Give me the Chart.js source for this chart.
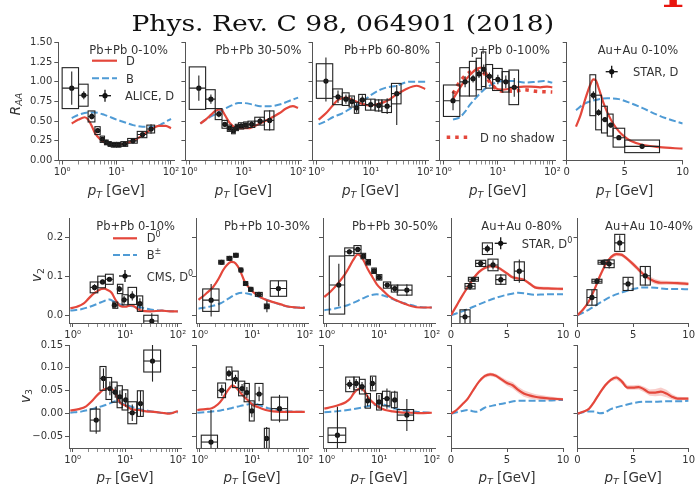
<!DOCTYPE html>
<html>
<head>
<meta charset="utf-8">
<script src="https://cdn.jsdelivr.net/npm/chart.js@4.4.0/dist/chart.umd.min.js"></script>
<style>
  body { margin: 0; background: #fff; width: 697px; height: 484px; overflow: hidden; position: relative; }
  canvas { position: absolute; left: 0; top: 0; }
</style>
</head>
<body>
<script>
// ---------- Row 1: R_AA ----------
// Pb+Pb 0-10%
const raa010PtD = [1.5, 2, 2.6, 3, 3.5, 4, 5, 6, 8, 10, 15, 20, 30, 40, 60, 80, 100];
const raa010D   = [0.47, 0.52, 0.55, 0.52, 0.44, 0.35, 0.27, 0.23, 0.21, 0.20, 0.22, 0.25, 0.32, 0.38, 0.44, 0.44, 0.41];
const raa010PtB = [1.5, 2, 3, 4, 6, 10, 15, 20, 30, 50, 70, 100];
const raa010B   = [0.54, 0.58, 0.61, 0.61, 0.58, 0.52, 0.48, 0.45, 0.43, 0.43, 0.47, 0.53];
const alice010Pt   = [1.5, 2.5, 3.5, 4.5, 5.5, 6.5, 7.5, 9, 11, 14, 20, 30, 43];
const alice010Val  = [0.92, 0.83, 0.56, 0.38, 0.27, 0.23, 0.21, 0.20, 0.20, 0.21, 0.25, 0.33, 0.40];
const alice010Stat = [0.21, 0.05, 0.04, 0.03, 0.02, 0.02, 0.02, 0.02, 0.02, 0.02, 0.03, 0.04, 0.06];
const alice010Sys  = [0.26, 0.14, 0.07, 0.05, 0.04, 0.03, 0.03, 0.03, 0.03, 0.03, 0.03, 0.04, 0.05];
const alice010Lo   = [1, 2, 3, 4, 5, 6, 7, 8, 10, 12, 16, 24, 36];
const alice010Hi   = [2, 3, 4, 5, 6, 7, 8, 10, 12, 16, 24, 36, 50];

// Pb+Pb 30-50%
const raa3050PtD = [1.6, 2, 2.5, 3, 3.8, 4.5, 5.5, 7, 9, 12, 15, 20, 30, 45, 60, 80, 100];
const raa3050D   = [0.47, 0.52, 0.58, 0.63, 0.65, 0.58, 0.48, 0.42, 0.41, 0.41, 0.43, 0.47, 0.53, 0.60, 0.66, 0.69, 0.67];
const raa3050PtB = [1.6, 2, 3, 4, 6, 8, 10, 15, 20, 30, 50, 70, 100];
const raa3050B   = [0.47, 0.52, 0.59, 0.64, 0.70, 0.73, 0.73, 0.71, 0.69, 0.69, 0.72, 0.76, 0.80];
const alice3050Pt   = [1.5, 2.5, 3.5, 4.5, 5.5, 6.5, 7.5, 9, 11, 14, 20, 30];
const alice3050Val  = [0.92, 0.78, 0.59, 0.46, 0.41, 0.38, 0.42, 0.44, 0.45, 0.46, 0.50, 0.51];
const alice3050Stat = [0.16, 0.06, 0.04, 0.03, 0.03, 0.03, 0.03, 0.03, 0.03, 0.04, 0.05, 0.13];
const alice3050Sys  = [0.27, 0.12, 0.07, 0.05, 0.04, 0.04, 0.04, 0.04, 0.04, 0.04, 0.05, 0.12];
const alice3050Lo   = [1, 2, 3, 4, 5, 6, 7, 8, 10, 12, 16, 24];
const alice3050Hi   = [2, 3, 4, 5, 6, 7, 8, 10, 12, 16, 24, 36];

// Pb+Pb 60-80%
const raa6080PtD = [1.1, 1.5, 2, 2.5, 3.5, 5, 7, 10, 14, 20, 30, 45, 70, 100];
const raa6080D   = [0.52, 0.60, 0.70, 0.77, 0.80, 0.76, 0.72, 0.70, 0.72, 0.76, 0.84, 0.91, 0.95, 0.91];
const raa6080PtB = [1.1, 1.5, 2, 3, 4, 6, 8, 10, 15, 20, 30, 50, 70, 100];
const raa6080B   = [0.46, 0.50, 0.55, 0.60, 0.65, 0.72, 0.78, 0.83, 0.90, 0.93, 0.95, 1.0, 1.0, 1.0];
const alice6080Pt     = [1.5, 2.5, 3.5, 4.5, 5.5, 7, 10, 14, 20, 30];
const alice6080Val    = [1.01, 0.81, 0.78, 0.75, 0.67, 0.77, 0.71, 0.70, 0.69, 0.85];
const alice6080StatUp = [0.3, 0.08, 0.06, 0.06, 0.06, 0.06, 0.07, 0.08, 0.1, 0.11];
const alice6080StatDn = [0.26, 0.08, 0.06, 0.06, 0.06, 0.06, 0.07, 0.08, 0.1, 0.4];
const alice6080Sys    = [0.22, 0.1, 0.08, 0.07, 0.07, 0.07, 0.07, 0.07, 0.08, 0.13];
const alice6080Lo     = [1, 2, 3, 4, 5, 6, 8, 12, 16, 24];
const alice6080Hi     = [2, 3, 4, 5, 6, 8, 12, 16, 24, 36];

// p+Pb 0-100%
const rppbPtD  = [1.5, 2, 2.5, 3, 4, 5, 6, 7, 9, 12, 16, 22, 30, 40, 60, 80, 100];
const rppbD    = [0.78, 0.92, 1.02, 1.08, 1.16, 1.18, 1.12, 1.02, 0.92, 0.90, 0.91, 0.93, 0.94, 0.94, 0.93, 0.94, 0.93];
const rppbPtNS = [1.5, 2, 3, 4, 5, 6, 7, 9, 12, 20, 30, 50, 100];
const rppbNS   = [0.85, 1.0, 1.12, 1.16, 1.14, 1.08, 1.0, 0.92, 0.88, 0.88, 0.90, 0.88, 0.87];
const rppbPtB  = [1.5, 2, 2.5, 3, 4, 5, 6, 8, 10, 15, 20, 30, 50, 70, 100];
const rppbB    = [0.52, 0.55, 0.62, 0.70, 0.80, 0.87, 0.92, 0.97, 1.0, 1.01, 1.01, 0.99, 1.0, 1.01, 0.99];
const alicePPbPt   = [1.5, 2.5, 3.5, 4.5, 5.5, 7, 10, 14, 20];
const alicePPbVal  = [0.76, 1.0, 1.04, 1.1, 1.16, 1.07, 1.03, 1.0, 0.93];
const alicePPbStat = [0.12, 0.07, 0.05, 0.05, 0.06, 0.05, 0.06, 0.08, 0.12];
const alicePPbSys  = [0.2, 0.18, 0.22, 0.2, 0.22, 0.15, 0.14, 0.13, 0.22];
const alicePPbLo   = [1, 2, 3, 4, 5, 6, 8, 12, 16];
const alicePPbHi   = [2, 3, 4, 5, 6, 8, 12, 16, 24];

// Au+Au 0-10%
const raaAuPtD = [0.8, 1.2, 1.6, 2.0, 2.3, 2.5, 2.8, 3.2, 3.6, 4.0, 4.5, 5.0, 5.5, 6.5, 8, 10];
const raaAuD   = [0.43, 0.58, 0.78, 0.95, 1.03, 1.02, 0.90, 0.72, 0.58, 0.47, 0.37, 0.30, 0.25, 0.20, 0.17, 0.15];
const raaAuPtB = [0.8, 1.5, 2.5, 3.5, 4.5, 5.5, 6.5, 7.5, 8.5, 10];
const raaAuB   = [0.64, 0.72, 0.77, 0.79, 0.78, 0.73, 0.67, 0.60, 0.54, 0.47];
const starRaaPt   = [2.3, 2.75, 3.3, 3.8, 4.5, 6.5];
const starRaaVal  = [0.83, 0.61, 0.52, 0.45, 0.29, 0.18];
const starRaaStat = [0.05, 0.04, 0.03, 0.03, 0.03, 0.03];
const starRaaSys  = [0.26, 0.22, 0.17, 0.14, 0.12, 0.08];
const starRaaLo   = [2.0, 2.5, 3.0, 3.5, 4.0, 5.0];
const starRaaHi   = [2.5, 3.0, 3.5, 4.0, 5.0, 8.0];

// ---------- Row 2: v2 ----------
const v2a010PtD = [0.9, 1.2, 1.6, 2, 2.5, 3, 3.5, 4, 4.5, 5.5, 6.5, 8, 10, 13, 17, 20, 30, 50, 70, 100];
const v2a010D   = [0.018, 0.022, 0.03, 0.043, 0.056, 0.063, 0.068, 0.069, 0.066, 0.058, 0.040, 0.024, 0.022, 0.026, 0.017, 0.012, 0.01, 0.012, 0.01, 0.01];
const v2a010PtB = [0.9, 1.5, 2, 3, 4, 5, 6, 8, 10, 15, 20, 30, 50, 100];
const v2a010B   = [0.012, 0.016, 0.021, 0.03, 0.037, 0.041, 0.036, 0.028, 0.025, 0.023, 0.02, 0.015, 0.012, 0.01];
const cmsV2a010Pt   = [2.6, 3.7, 5.0, 6.2, 7.7, 9.5, 13.6, 19, 32];
const cmsV2a010Val  = [0.072, 0.086, 0.093, 0.026, 0.068, 0.04, 0.05, 0.03, -0.015];
const cmsV2a010Stat = [0.008, 0.006, 0.006, 0.005, 0.008, 0.01, 0.012, 0.014, 0.02];
const cmsV2a010Sys  = [0.014, 0.015, 0.013, 0.008, 0.012, 0.013, 0.022, 0.02, 0.015];
const cmsV2a010Lo   = [2.15, 3.0, 4.2, 5.8, 7.1, 8.7, 11.3, 17, 22.5];
const cmsV2a010Hi   = [3.0, 4.2, 5.9, 7.2, 9.0, 11.3, 16.4, 21.5, 42];

const v2a1030PtD = [0.95, 1.3, 1.8, 2.3, 2.8, 3.3, 4, 4.5, 5.2, 6, 7, 8, 10, 13, 18, 25, 35, 50, 70, 100];
const v2a1030D   = [0.04, 0.055, 0.073, 0.095, 0.117, 0.13, 0.138, 0.137, 0.128, 0.112, 0.09, 0.077, 0.062, 0.05, 0.04, 0.034, 0.028, 0.022, 0.02, 0.019];
const v2a1030PtB = [0.95, 1.5, 2.5, 3.5, 5, 6.5, 8, 11, 15, 20, 30, 50, 70, 100];
const v2a1030B   = [0.017, 0.022, 0.031, 0.043, 0.055, 0.058, 0.056, 0.051, 0.045, 0.039, 0.03, 0.022, 0.02, 0.02];
const cmsV2a1030Pt   = [1.65, 2.6, 3.7, 4.9, 6.1, 7.5, 9.4, 13.4, 19, 31.5];
const cmsV2a1030Val  = [0.039, 0.137, 0.147, 0.155, 0.117, 0.082, 0.067, 0.054, 0.023, 0.069];
const cmsV2a1030Stat = [0.042, 0.005, 0.004, 0.004, 0.004, 0.005, 0.005, 0.006, 0.015, 0.02];
const cmsV2a1030Sys  = [0.029, 0.005, 0.005, 0.005, 0.005, 0.005, 0.005, 0.005, 0.006, 0.02];
const cmsV2a1030Lo   = [1.14, 2.3, 3.3, 4.4, 5.6, 6.8, 8.5, 11.5, 17, 22];
const cmsV2a1030Hi   = [2.33, 2.9, 4.1, 5.4, 6.6, 8.2, 10.3, 15.5, 21, 45];

const v2a3050PtD = [0.9, 1.2, 1.7, 2.2, 2.7, 3.2, 3.9, 4.5, 5.2, 6, 7.4, 9, 11.5, 15, 20, 30, 40, 60, 100];
const v2a3050D   = [0.047, 0.062, 0.085, 0.105, 0.125, 0.143, 0.157, 0.152, 0.138, 0.12, 0.099, 0.08, 0.065, 0.05, 0.04, 0.03, 0.024, 0.02, 0.02];
const v2a3050PtB = [0.9, 1.5, 2.5, 4, 5.5, 7, 9, 12, 16, 22, 32, 50, 70, 100];
const v2a3050B   = [0.013, 0.018, 0.026, 0.038, 0.047, 0.052, 0.054, 0.051, 0.045, 0.037, 0.03, 0.023, 0.02, 0.02];
const cmsV2a3050Pt   = [1.7, 2.7, 3.9, 5.0, 6.2, 8.0, 9.9, 14.2, 19.7, 33.5];
const cmsV2a3050Val  = [0.078, 0.164, 0.17, 0.153, 0.137, 0.115, 0.098, 0.078, 0.069, 0.065];
const cmsV2a3050Stat = [0.055, 0.006, 0.005, 0.005, 0.005, 0.005, 0.006, 0.006, 0.008, 0.015];
const cmsV2a3050Sys  = [0.075, 0.01, 0.01, 0.007, 0.007, 0.007, 0.007, 0.008, 0.009, 0.013];
const cmsV2a3050Lo   = [1.12, 2.2, 3.3, 4.5, 5.6, 7.2, 8.8, 12, 17, 22];
const cmsV2a3050Hi   = [2.2, 3.3, 4.5, 5.5, 6.8, 8.8, 11.2, 16.5, 22.5, 42];

const v2Au080PtD = [0, 0.5, 1, 1.5, 2, 2.5, 3, 3.5, 4, 4.5, 5, 5.5, 6, 6.5, 7, 7.5, 8, 9, 10];
const v2Au080D   = [0.0, 0.025, 0.05, 0.073, 0.095, 0.112, 0.122, 0.127, 0.126, 0.118, 0.108, 0.098, 0.095, 0.092, 0.082, 0.072, 0.07, 0.069, 0.068];
const v2Au080Err = [0, 0.002, 0.003, 0.004, 0.004, 0.004, 0.004, 0.004, 0.004, 0.004, 0.004, 0.004, 0.004, 0.004, 0.004, 0.004, 0.004, 0.004, 0.004];
const v2Au080PtB = [0, 1, 2, 3, 4, 5, 6, 6.5, 7.5, 8.5, 10];
const v2Au080B   = [0, 0.01, 0.022, 0.034, 0.045, 0.053, 0.058, 0.057, 0.053, 0.054, 0.054];
const starV2a080Pt   = [1.25, 1.7, 2.0, 2.65, 3.25, 3.75, 4.45, 6.1];
const starV2a080Val  = [-0.004, 0.075, 0.093, 0.134, 0.172, 0.13, 0.092, 0.114];
const starV2a080Stat = [0.02, 0.01, 0.006, 0.008, 0.01, 0.012, 0.014, 0.03];
const starV2a080Sys  = [0.018, 0.007, 0.005, 0.008, 0.015, 0.015, 0.012, 0.024];
const starV2a080Lo   = [0.8, 1.25, 1.55, 2.2, 2.8, 3.3, 4.0, 5.65];
const starV2a080Hi   = [1.7, 2.15, 2.45, 3.1, 3.7, 4.2, 4.9, 6.55];

const v2Au1040PtD = [0, 0.5, 1, 1.5, 2, 2.5, 3, 3.5, 4, 4.5, 5, 5.5, 6, 6.5, 7, 7.5, 8, 9, 10];
const v2Au1040D   = [0, 0.015, 0.035, 0.065, 0.1, 0.13, 0.15, 0.158, 0.156, 0.145, 0.132, 0.118, 0.104, 0.094, 0.087, 0.084, 0.084, 0.083, 0.081];
const v2Au1040Err = [0, 0.002, 0.003, 0.004, 0.005, 0.005, 0.005, 0.005, 0.005, 0.005, 0.006, 0.006, 0.006, 0.007, 0.007, 0.006, 0.005, 0.005, 0.005];
const v2Au1040PtB = [0, 1, 2, 3, 4, 5, 6, 7, 8, 9, 10];
const v2Au1040B   = [0, 0.014, 0.032, 0.048, 0.059, 0.068, 0.072, 0.071, 0.068, 0.068, 0.067];
const starV2a1040Pt   = [1.3, 1.75, 2.3, 2.85, 3.8, 4.55, 6.1];
const starV2a1040Val  = [0.046, 0.088, 0.137, 0.133, 0.187, 0.081, 0.102];
const starV2a1040Stat = [0.02, 0.008, 0.006, 0.012, 0.02, 0.016, 0.025];
const starV2a1040Sys  = [0.02, 0.005, 0.005, 0.01, 0.022, 0.017, 0.024];
const starV2a1040Lo   = [0.85, 1.3, 1.85, 2.4, 3.35, 4.1, 5.65];
const starV2a1040Hi   = [1.75, 2.2, 2.75, 3.3, 4.25, 5.0, 6.55];

// ---------- Row 3: v3 ----------
const v3a010PtD = [0.9, 1.3, 1.8, 2.3, 2.8, 3.3, 3.9, 4.6, 5.5, 6.3, 7, 8, 10, 13, 18, 25, 35, 50, 70, 100];
const v3a010D   = [0.007, 0.01, 0.016, 0.027, 0.038, 0.046, 0.053, 0.055, 0.054, 0.048, 0.036, 0.024, 0.018, 0.01, 0.008, 0.005, 0.004, 0.002, 0.0, 0.006];
const v3a010PtB = [0.9, 1.5, 2.5, 3.5, 4.5, 5.5, 6.8, 8, 10, 13, 18, 25, 40, 60, 100];
const v3a010B   = [0.002, 0.005, 0.011, 0.016, 0.02, 0.024, 0.028, 0.024, 0.02, 0.015, 0.01, 0.007, 0.003, 0.001, 0.003];
const cmsV3a010Pt   = [2.8, 3.85, 5.1, 6.45, 7.9, 10.2, 13.6, 19.5, 33];
const cmsV3a010Val  = [-0.014, 0.077, 0.055, 0.047, 0.037, 0.03, 0.002, 0.022, 0.115];
const cmsV3a010Stat = [0.03, 0.022, 0.015, 0.012, 0.014, 0.015, 0.018, 0.028, 0.045];
const cmsV3a010Sys  = [0.024, 0.026, 0.024, 0.022, 0.024, 0.022, 0.024, 0.028, 0.024];
const cmsV3a010Lo   = [2.15, 3.3, 4.3, 5.5, 7.0, 8.7, 11.2, 17, 22.5];
const cmsV3a010Hi   = [3.3, 4.3, 5.5, 7.0, 8.8, 11.2, 16.5, 22, 47];

const v3a1030PtD = [0.9, 1.3, 1.7, 2.2, 2.7, 3.2, 3.7, 4.2, 5, 6, 7, 8.5, 10, 13, 18, 25, 35, 50, 70, 100];
const v3a1030D   = [0.008, 0.01, 0.012, 0.02, 0.032, 0.046, 0.056, 0.062, 0.056, 0.045, 0.037, 0.028, 0.02, 0.014, 0.008, 0.005, 0.004, 0.004, 0.004, 0.004];
const v3a1030PtB = [0.9, 1.5, 2.5, 4, 6, 8, 11, 14, 20, 30, 50, 100];
const v3a1030B   = [0.002, 0.004, 0.007, 0.012, 0.017, 0.02, 0.022, 0.018, 0.012, 0.008, 0.005, 0.004];
const cmsV3a1030Pt   = [1.64, 2.63, 3.6, 4.8, 6.4, 7.9, 9.8, 13.5, 18.8, 33];
const cmsV3a1030Val  = [-0.062, 0.051, 0.088, 0.075, 0.055, 0.046, 0.006, 0.043, -0.054, 0.011];
const cmsV3a1030Stat = [0.07, 0.012, 0.008, 0.01, 0.01, 0.012, 0.014, 0.016, 0.025, 0.03];
const cmsV3a1030Sys  = [0.015, 0.016, 0.014, 0.018, 0.016, 0.02, 0.022, 0.023, 0.022, 0.025];
const cmsV3a1030Lo   = [1.07, 2.2, 3.2, 4.2, 5.5, 7.0, 8.8, 11.3, 17, 23];
const cmsV3a1030Hi   = [2.18, 3.1, 4.1, 5.4, 7.2, 8.8, 10.9, 16, 21, 47];

const v3a3050PtD = [0.9, 1.3, 1.8, 2.3, 2.8, 3.3, 3.9, 4.6, 5.3, 6, 7, 8.5, 10, 13, 18, 25, 40, 60, 100];
const v3a3050D   = [0.011, 0.015, 0.02, 0.025, 0.033, 0.045, 0.053, 0.055, 0.048, 0.037, 0.028, 0.02, 0.014, 0.008, 0.005, 0.003, 0.002, 0.001, 0.002];
const v3a3050PtB = [0.9, 1.5, 2.5, 4, 6, 8, 11, 15, 20, 30, 50, 100];
const v3a3050B   = [0.003, 0.005, 0.008, 0.012, 0.016, 0.019, 0.021, 0.016, 0.011, 0.007, 0.004, 0.002];
const cmsV3a3050Pt   = [1.6, 2.73, 3.64, 4.7, 6.0, 7.4, 9.9, 14, 19.7, 33.5];
const cmsV3a3050Val  = [-0.047, 0.064, 0.066, 0.059, 0.028, 0.066, 0.026, 0.033, 0.03, -0.003];
const cmsV3a3050Stat = [0.062, 0.01, 0.01, 0.01, 0.012, 0.014, 0.015, 0.022, 0.02, 0.035];
const cmsV3a3050Sys  = [0.016, 0.016, 0.014, 0.016, 0.016, 0.016, 0.018, 0.016, 0.017, 0.012];
const cmsV3a3050Lo   = [1.06, 2.3, 3.3, 4.2, 5.4, 6.8, 8.9, 11.5, 17, 22];
const cmsV3a3050Hi   = [2.3, 3.3, 4.2, 5.4, 6.8, 8.6, 11, 16, 22, 45];

const v3Au080PtD = [0, 0.5, 1, 1.5, 2, 2.5, 3, 3.5, 4, 4.5, 5, 5.5, 6, 6.5, 7, 7.5, 8, 9, 10];
const v3Au080D   = [0, 0.008, 0.02, 0.033, 0.052, 0.07, 0.082, 0.086, 0.083, 0.075, 0.067, 0.062, 0.052, 0.044, 0.04, 0.037, 0.035, 0.033, 0.031];
const v3Au080Err = [0, 0.002, 0.002, 0.003, 0.003, 0.003, 0.004, 0.004, 0.004, 0.005, 0.006, 0.007, 0.007, 0.007, 0.007, 0.006, 0.006, 0.004, 0.003];
const v3Au080PtB = [0, 1, 1.5, 2, 2.3, 3, 4, 5, 6, 7, 8, 9, 10];
const v3Au080B   = [0, 0.006, 0.008, 0.005, 0.004, 0.013, 0.019, 0.024, 0.028, 0.028, 0.028, 0.029, 0.03];

const v3Au1040PtD = [0, 0.5, 1, 1.5, 2, 2.5, 3, 3.5, 4, 4.5, 5, 5.5, 6, 6.5, 7, 7.5, 8, 8.5, 9, 10];
const v3Au1040D   = [0, 0.004, 0.01, 0.026, 0.045, 0.062, 0.074, 0.079, 0.07, 0.057, 0.057, 0.058, 0.053, 0.046, 0.046, 0.048, 0.044, 0.037, 0.033, 0.033];
const v3Au1040Err = [0, 0.002, 0.002, 0.003, 0.003, 0.004, 0.004, 0.005, 0.005, 0.005, 0.005, 0.005, 0.006, 0.007, 0.008, 0.009, 0.008, 0.006, 0.004, 0.003];
const v3Au1040PtB = [0, 1, 1.5, 2, 2.5, 3, 4, 5, 6, 7, 8, 9, 10];
const v3Au1040B   = [0, 0.005, 0.005, 0.001, 0.003, 0.01, 0.017, 0.023, 0.026, 0.026, 0.027, 0.027, 0.028];

// axis ticks
const logTicks = [0.9, 1, 2, 3, 4, 5, 6, 7, 8, 9, 10, 20, 30, 40, 50, 60, 70, 80, 90, 100];
const linTicks = [0, 5, 10];
const raaTicks = [0, 0.25, 0.5, 0.75, 1, 1.25, 1.5];
const v2Ticks = [0, 0.1, 0.2];
const v3Ticks = [-0.05, 0, 0.05, 0.1, 0.15];

// ---------- styling / layout ----------
const AX = '#555', TXT = '#333', RED = '#e4473b', BLUE = '#4f9bd5', BAND = 'rgba(232,90,80,0.3)', BOX = '#222';
const FONT = '"DejaVu Sans"';
const YW = 45; // width given to the y axis box

const ROWS = [
  { top: 42.5, bottom: 160.5, w: 116, x0: [58.3, 185.4, 312.5, 439.6, 566.7], titleY: 54,
    ymin: 0, ymax: 1.5, ticks: raaTicks, fmt: v => v.toFixed(2) },
  { top: 218.5, bottom: 323, w: 112, x0: [69, 196, 323, 451, 577.5], titleY: 229.5,
    ymin: -0.02, ymax: 0.25, ticks: v2Ticks, fmt: v => v.toFixed(1) },
  { top: 345, bottom: 448, w: 112, x0: [69, 196, 323, 451, 577.5], titleY: 0,
    ymin: -0.075, ymax: 0.15, ticks: v3Ticks, fmt: v => (v < -1e-9 ? '\u2212' : '') + Math.abs(v).toFixed(2) }
];

const pts = (pt, val, stat, sys, lo, hi, statDn) => ({ pt, val, stat, statDn: statDn || stat, sys, lo, hi });

const panels = [
  { r: 0, c: 0, log: true, title: 'Pb+Pb 0-10%', tx: 168,
    curves: [[raa010PtD, raa010D, 'red'], [raa010PtB, raa010B, 'blue']],
    data: pts(alice010Pt, alice010Val, alice010Stat, alice010Sys, alice010Lo, alice010Hi),
    legend: [
      { k: 'red', x1: 92, x2: 117, y: 60.7 }, { k: 'text', parts: [['D', '']], x: 126, y: 64.5 },
      { k: 'blue', x1: 92, x2: 117, y: 78.3 }, { k: 'text', parts: [['B', '']], x: 126, y: 82.5 },
      { k: 'plus', x: 105, y: 95.7 }, { k: 'text', parts: [['ALICE, D', '']], x: 125, y: 100 }
    ] },
  { r: 0, c: 1, log: true, title: 'Pb+Pb 30-50%', tx: 301.5,
    curves: [[raa3050PtD, raa3050D, 'red'], [raa3050PtB, raa3050B, 'blue']],
    data: pts(alice3050Pt, alice3050Val, alice3050Stat, alice3050Sys, alice3050Lo, alice3050Hi) },
  { r: 0, c: 2, log: true, title: 'Pb+Pb 60-80%', tx: 430,
    curves: [[raa6080PtD, raa6080D, 'red'], [raa6080PtB, raa6080B, 'blue']],
    data: pts(alice6080Pt, alice6080Val, alice6080StatUp, alice6080Sys, alice6080Lo, alice6080Hi, alice6080StatDn) },
  { r: 0, c: 3, log: true, title: 'p+Pb 0-100%', tx: 550,
    curves: [[rppbPtNS, rppbNS, 'dot'], [rppbPtD, rppbD, 'red'], [rppbPtB, rppbB, 'blue']],
    data: pts(alicePPbPt, alicePPbVal, alicePPbStat, alicePPbSys, alicePPbLo, alicePPbHi),
    legend: [
      { k: 'dot', x1: 446.7, x2: 471.7, y: 137.3 }, { k: 'text', parts: [['D no shadow', '']], x: 480, y: 141.7 }
    ] },
  { r: 0, c: 4, log: false, title: 'Au+Au 0-10%', tx: 678.3,
    curves: [[raaAuPtD, raaAuD, 'red'], [raaAuPtB, raaAuB, 'blue']],
    data: pts(starRaaPt, starRaaVal, starRaaStat, starRaaSys, starRaaLo, starRaaHi),
    legend: [ { k: 'plus', x: 611.7, y: 71.7 }, { k: 'text', parts: [['STAR, D', '']], x: 633, y: 76 } ] },

  { r: 1, c: 0, log: true, title: 'Pb+Pb 0-10%', tx: 175,
    curves: [[v2a010PtD, v2a010D, 'red'], [v2a010PtB, v2a010B, 'blue']],
    data: pts(cmsV2a010Pt, cmsV2a010Val, cmsV2a010Stat, cmsV2a010Sys, cmsV2a010Lo, cmsV2a010Hi),
    legend: [
      { k: 'red', x1: 113, x2: 137, y: 238.3 }, { k: 'text', parts: [['D', ''], ['0', 'sup']], x: 146.7, y: 242 },
      { k: 'blue', x1: 113, x2: 137, y: 255 }, { k: 'text', parts: [['B', ''], ['\u00b1', 'sup']], x: 146.7, y: 258.5 },
      { k: 'plus', x: 125, y: 276 }, { k: 'text', parts: [['CMS, D', ''], ['0', 'sup']], x: 146.7, y: 280.5 }
    ] },
  { r: 1, c: 1, log: true, title: 'Pb+Pb 10-30%', tx: 310,
    curves: [[v2a1030PtD, v2a1030D, 'red'], [v2a1030PtB, v2a1030B, 'blue']],
    data: pts(cmsV2a1030Pt, cmsV2a1030Val, cmsV2a1030Stat, cmsV2a1030Sys, cmsV2a1030Lo, cmsV2a1030Hi) },
  { r: 1, c: 2, log: true, title: 'Pb+Pb 30-50%', tx: 438,
    curves: [[v2a3050PtD, v2a3050D, 'red'], [v2a3050PtB, v2a3050B, 'blue']],
    data: pts(cmsV2a3050Pt, cmsV2a3050Val, cmsV2a3050Stat, cmsV2a3050Sys, cmsV2a3050Lo, cmsV2a3050Hi) },
  { r: 1, c: 3, log: false, title: 'Au+Au 0-80%', tx: 562,
    band: [v2Au080PtD, v2Au080D, v2Au080Err],
    curves: [[v2Au080PtD, v2Au080D, 'red'], [v2Au080PtB, v2Au080B, 'blue']],
    data: pts(starV2a080Pt, starV2a080Val, starV2a080Stat, starV2a080Sys, starV2a080Lo, starV2a080Hi),
    legend: [ { k: 'plus', x: 500.7, y: 243.3 }, { k: 'text', parts: [['STAR, D', ''], ['0', 'sup']], x: 521.7, y: 248 } ] },
  { r: 1, c: 4, log: false, title: 'Au+Au 10-40%', tx: 693,
    band: [v2Au1040PtD, v2Au1040D, v2Au1040Err],
    curves: [[v2Au1040PtD, v2Au1040D, 'red'], [v2Au1040PtB, v2Au1040B, 'blue']],
    data: pts(starV2a1040Pt, starV2a1040Val, starV2a1040Stat, starV2a1040Sys, starV2a1040Lo, starV2a1040Hi) },

  { r: 2, c: 0, log: true,
    curves: [[v3a010PtD, v3a010D, 'red'], [v3a010PtB, v3a010B, 'blue']],
    data: pts(cmsV3a010Pt, cmsV3a010Val, cmsV3a010Stat, cmsV3a010Sys, cmsV3a010Lo, cmsV3a010Hi) },
  { r: 2, c: 1, log: true,
    curves: [[v3a1030PtD, v3a1030D, 'red'], [v3a1030PtB, v3a1030B, 'blue']],
    data: pts(cmsV3a1030Pt, cmsV3a1030Val, cmsV3a1030Stat, cmsV3a1030Sys, cmsV3a1030Lo, cmsV3a1030Hi) },
  { r: 2, c: 2, log: true,
    curves: [[v3a3050PtD, v3a3050D, 'red'], [v3a3050PtB, v3a3050B, 'blue']],
    data: pts(cmsV3a3050Pt, cmsV3a3050Val, cmsV3a3050Stat, cmsV3a3050Sys, cmsV3a3050Lo, cmsV3a3050Hi) },
  { r: 2, c: 3, log: false,
    band: [v3Au080PtD, v3Au080D, v3Au080Err],
    curves: [[v3Au080PtD, v3Au080D, 'red'], [v3Au080PtB, v3Au080B, 'blue']] },
  { r: 2, c: 4, log: false,
    band: [v3Au1040PtD, v3Au1040D, v3Au1040Err],
    curves: [[v3Au1040PtD, v3Au1040D, 'red'], [v3Au1040PtB, v3Au1040B, 'blue']] }
];

const yLabels = [
  { parts: [['R', 'i'], ['AA', 'isub']], x: 19.5, y: 104 },
  { parts: [['v', 'i'], ['2', 'sub']], x: 41, y: 275 },
  { parts: [['v', 'i'], ['3', 'sub']], x: 29.5, y: 396 }
];
const PT_LABEL = [['p', 'i'], ['T', 'isub'], [' [GeV]', '']];

// text with sub/superscripts
function rich(ctx, parts, x, y, size, align) {
  const segs = parts.map(([t, s]) => {
    const small = s.includes('sub') || s.includes('sup');
    const sz = small ? size * 0.7 : size;
    return {
      t, font: (s.includes('i') ? 'italic ' : '') + sz + 'px ' + FONT,
      dy: s.includes('sub') ? size * 0.22 : s.includes('sup') ? -size * 0.4 : 0
    };
  });
  let w = 0;
  segs.forEach(s => { ctx.font = s.font; s.w = ctx.measureText(s.t).width; w += s.w; });
  let cx = align === 'right' ? x - w : align === 'center' ? x - w / 2 : x;
  ctx.textAlign = 'left';
  ctx.textBaseline = 'alphabetic';
  segs.forEach(s => { ctx.font = s.font; ctx.fillText(s.t, cx, y + s.dy); cx += s.w; });
}

function seg(ctx, x1, y1, x2, y2) {
  ctx.beginPath(); ctx.moveTo(x1, y1); ctx.lineTo(x2, y2); ctx.stroke();
}

const lineStyle = {
  red: { borderColor: RED, borderWidth: 2.2, borderDash: [] },
  blue: { borderColor: BLUE, borderWidth: 2, borderDash: [7, 3] },
  dot: { borderColor: RED, borderWidth: 3.5, borderDash: [3.5, 5] }
};

function legendItem(ctx, it) {
  ctx.save();
  if (it.k === 'text') {
    ctx.fillStyle = TXT;
    rich(ctx, it.parts, it.x, it.y, 11.5, 'left');
  } else if (it.k === 'plus') {
    ctx.strokeStyle = '#111'; ctx.lineWidth = 1.3;
    seg(ctx, it.x - 6, it.y, it.x + 6, it.y);
    seg(ctx, it.x, it.y - 6, it.x, it.y + 6);
    ctx.fillStyle = '#111';
    ctx.beginPath(); ctx.arc(it.x, it.y, 2.6, 0, Math.PI * 2); ctx.fill();
  } else {
    const st = lineStyle[it.k];
    ctx.strokeStyle = st.borderColor; ctx.lineWidth = st.borderWidth; ctx.setLineDash(st.borderDash);
    seg(ctx, it.x1, it.y, it.x2, it.y);
  }
  ctx.restore();
}

function makeDeco(p) {
  const row = ROWS[p.r];
  return {
    id: 'deco' + p.r + p.c,
    afterDatasetsDraw(chart) {
      const d = p.data;
      if (!d) return;
      const { ctx, chartArea: a, scales: { x, y } } = chart;
      ctx.save();
      ctx.beginPath(); ctx.rect(a.left, a.top, a.right - a.left, a.bottom - a.top); ctx.clip();
      ctx.strokeStyle = BOX; ctx.lineWidth = 1.1;
      d.pt.forEach((v, i) => {
        const px = x.getPixelForValue(v), py = y.getPixelForValue(d.val[i]);
        const xl = x.getPixelForValue(d.lo[i]), xh = x.getPixelForValue(d.hi[i]);
        const yt = y.getPixelForValue(d.val[i] + d.sys[i]), yb = y.getPixelForValue(d.val[i] - d.sys[i]);
        ctx.strokeRect(xl, yt, xh - xl, yb - yt);
        seg(ctx, xl, py, xh, py);
        seg(ctx, px, y.getPixelForValue(d.val[i] + d.stat[i]), px, y.getPixelForValue(d.val[i] - d.statDn[i]));
      });
      ctx.restore();
    },
    afterDraw(chart) {
      const { ctx, chartArea: a } = chart;
      ctx.save();
      ctx.fillStyle = TXT;
      if (p.title) {
        ctx.font = '11.5px ' + FONT;
        ctx.textAlign = 'right'; ctx.textBaseline = 'alphabetic';
        ctx.fillText(p.title, p.tx, row.titleY);
      }
      if (p.r !== 1) rich(ctx, PT_LABEL, (a.left + a.right) / 2, p.r === 0 ? 195 : 482, 13.5, 'center');
      if (p.c === 0) {
        const yl = yLabels[p.r];
        ctx.save(); ctx.translate(yl.x, yl.y); ctx.rotate(-Math.PI / 2);
        rich(ctx, yl.parts, 0, 0, 13.5, 'center');
        ctx.restore();
      }
      (p.legend || []).forEach(it => legendItem(ctx, it));
      if (p.r === 0 && p.c === 0) {
        // page header and the red mark cut at the top edge
        ctx.save();
        ctx.fillStyle = '#111';
        ctx.font = '23px "DejaVu Serif"';
        ctx.textAlign = 'left';
        ctx.translate(131.5, 31);
        ctx.scale(1.155, 1);
        ctx.fillText('Phys. Rev. C 98, 064901 (2018)', 0, 0);
        ctx.restore();
        ctx.fillStyle = '#e8150f';
        ctx.font = 'bold 40px "DejaVu Serif"';
        ctx.textAlign = 'center';
        ctx.fillText('1', 672.5, 6.5);
      }
      ctx.restore();
    }
  };
}

const xy = (xs, ys) => xs.map((v, i) => ({ x: v, y: ys[i] }));

panels.forEach(p => {
  const row = ROWS[p.r];
  const x0 = row.x0[p.c];
  const cv = document.createElement('canvas');
  cv.width = 697; cv.height = 484;
  document.body.appendChild(cv);

  const datasets = [];
  if (p.band) {
    const [bx, by, be] = p.band;
    datasets.push({ data: xy(bx, by.map((v, i) => v + be[i])), pointRadius: 0, borderWidth: 0, fill: '+1', backgroundColor: BAND, order: 3 });
    datasets.push({ data: xy(bx, by.map((v, i) => v - be[i])), pointRadius: 0, borderWidth: 0, fill: false, order: 3 });
  }
  p.curves.forEach(([cx, cy, kind]) => {
    datasets.push({ data: xy(cx, cy), pointRadius: 0, fill: false, cubicInterpolationMode: 'monotone', order: 2, ...lineStyle[kind] });
  });
  if (p.data) {
    datasets.push({ data: xy(p.data.pt, p.data.val), showLine: false, pointRadius: 2.6, pointBackgroundColor: '#111', pointBorderWidth: 0, order: 0 });
  }

  const border = { display: true, color: AX, width: 1 };
  const grid = { drawOnChartArea: false, drawTicks: true, tickLength: 4, color: AX };

  new Chart(cv, {
    type: 'line',
    data: { datasets },
    options: {
      responsive: false, animation: false, events: [],
      layout: { padding: { left: x0 - YW, right: 697 - x0 - row.w, top: row.top, bottom: 484 - row.bottom - 20 } },
      scales: {
        x: {
          type: p.log ? 'logarithmic' : 'linear',
          min: p.log ? 0.85 : 0, max: p.log ? 115 : 10,
          afterBuildTicks: s => { s.ticks = (p.log ? logTicks : linTicks).map(v => ({ value: v })); },
          afterFit: s => { s.height = 20; },
          border,
          grid: { ...grid, tickWidth: c => (!p.log || (c.tick && [1, 10, 100].includes(c.tick.value))) ? 1 : 0.7 },
          ticks: { autoSkip: false, maxRotation: 0, minRotation: 0, padding: 2, color: TXT,
                   font: { family: FONT, size: 10 },
                   callback: v => p.log ? ({ 1: '10\u2070', 10: '10\u00b9', 100: '10\u00b2' }[v] || '') : String(v) }
        },
        y: {
          type: 'linear', min: row.ymin, max: row.ymax,
          afterBuildTicks: s => { s.ticks = row.ticks.map(v => ({ value: v })); },
          afterFit: s => { s.width = YW; },
          border,
          grid: { ...grid, tickWidth: 1 },
          ticks: { autoSkip: false, padding: 2, color: TXT, font: { family: FONT, size: 10 },
                   callback: v => p.c === 0 ? row.fmt(v) : '' }
        }
      },
      plugins: { legend: { display: false }, tooltip: { enabled: false } }
    },
    plugins: [makeDeco(p)]
  });
});
</script>
</body>
</html>
